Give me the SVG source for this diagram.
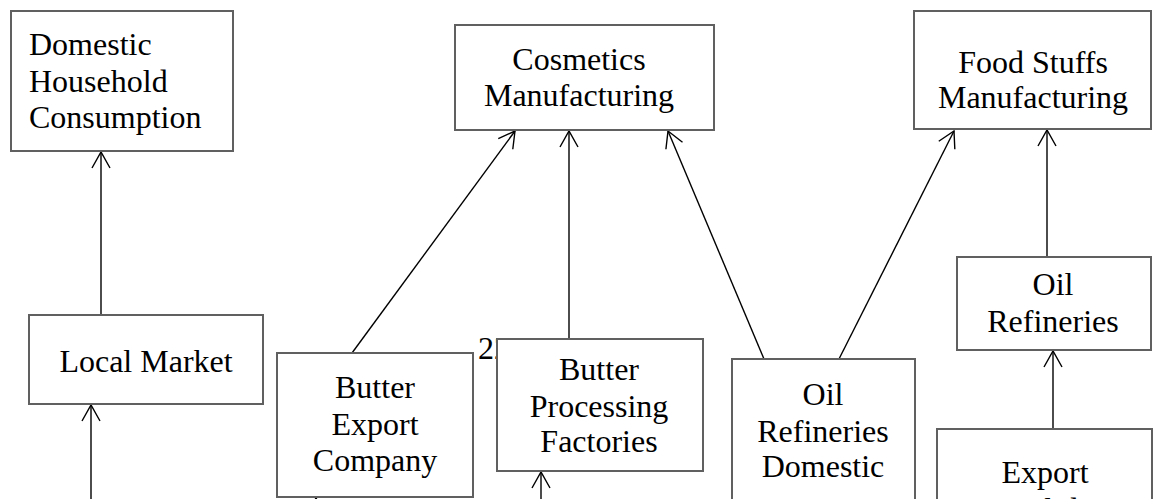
<svg xmlns="http://www.w3.org/2000/svg" width="1160" height="499" viewBox="0 0 1160 499">
  <style>
    .box { fill: #ffffff; stroke: #606060; stroke-width: 2; }
    .lbl { font-family: "Liberation Serif", "Times New Roman", serif; font-size: 32px; fill: #000000; }
    .mid { text-anchor: middle; }
    .edge { stroke: #000000; stroke-width: 1.4; fill: none; marker-end: url(#arrow); }
  </style>
  <defs>
    <marker id="arrow" markerUnits="userSpaceOnUse" markerWidth="20" markerHeight="22" viewBox="-18 -11 20 22" refX="0" refY="0" orient="auto">
      <path d="M -16 -9 L 0 0 L -16 9" fill="none" stroke="#000000" stroke-width="1.4"/>
    </marker>
  </defs>

  <rect width="1160" height="499" fill="#ffffff"/>

  <!-- stray label partly hidden behind the processing box -->
  <text class="lbl" x="478" y="359">22</text>

  <!-- connectors -->
  <g id="connectors">
    <line class="edge" x1="101" y1="315" x2="101" y2="152"/>
    <line class="edge" x1="91" y1="520" x2="91" y2="405"/>
    <line class="edge" x1="352" y1="353" x2="515" y2="131"/>
    <line class="edge" x1="569" y1="339" x2="569" y2="131"/>
    <line class="edge" x1="764" y1="359" x2="668" y2="131"/>
    <line class="edge" x1="839" y1="359" x2="954" y2="131"/>
    <line class="edge" x1="1047" y1="257" x2="1047" y2="130"/>
    <line class="edge" x1="1053" y1="429" x2="1053" y2="351"/>
    <line class="edge" x1="541" y1="540" x2="541" y2="472"/>
    <line class="edge" x1="316" y1="540" x2="316" y2="498"/>
  </g>

  <g id="domestic-household">
    <rect class="box" x="11" y="11" width="222" height="140"/>
    <text class="lbl" x="29" y="55">Domestic</text>
    <text class="lbl" x="29" y="92">Household</text>
    <text class="lbl" x="29" y="128">Consumption</text>
  </g>

  <g id="local-market">
    <rect class="box" x="29" y="315" width="234" height="89"/>
    <text class="lbl mid" x="146" y="372">Local Market</text>
  </g>

  <g id="cosmetics">
    <rect class="box" x="455" y="25" width="259" height="105"/>
    <text class="lbl mid" x="579" y="70">Cosmetics</text>
    <text class="lbl mid" x="579" y="106">Manufacturing</text>
  </g>

  <g id="food-stuffs">
    <rect class="box" x="914" y="11" width="237" height="118"/>
    <text class="lbl mid" x="1033" y="73">Food Stuffs</text>
    <text class="lbl mid" x="1033" y="108">Manufacturing</text>
  </g>

  <g id="oil-refineries">
    <rect class="box" x="957" y="257" width="194" height="93"/>
    <text class="lbl mid" x="1053" y="295">Oil</text>
    <text class="lbl mid" x="1053" y="332">Refineries</text>
  </g>

  <g id="butter-export">
    <rect class="box" x="277" y="353" width="196" height="144"/>
    <text class="lbl mid" x="375" y="398">Butter</text>
    <text class="lbl mid" x="375" y="435">Export</text>
    <text class="lbl mid" x="375" y="471">Company</text>
  </g>

  <g id="butter-processing">
    <rect class="box" x="497" y="339" width="206" height="132"/>
    <text class="lbl mid" x="599" y="380">Butter</text>
    <text class="lbl mid" x="599" y="417">Processing</text>
    <text class="lbl mid" x="599" y="452">Factories</text>
  </g>

  <g id="oil-refineries-domestic">
    <rect class="box" x="732" y="359" width="183" height="200"/>
    <text class="lbl mid" x="823" y="405">Oil</text>
    <text class="lbl mid" x="823" y="442">Refineries</text>
    <text class="lbl mid" x="823" y="477">Domestic</text>
  </g>

  <g id="export-consolidator">
    <rect class="box" x="937" y="429" width="215" height="140"/>
    <text class="lbl mid" x="1045" y="483">Export</text>
    <text class="lbl mid" x="1045" y="520">Consolidator</text>
  </g>
</svg>
